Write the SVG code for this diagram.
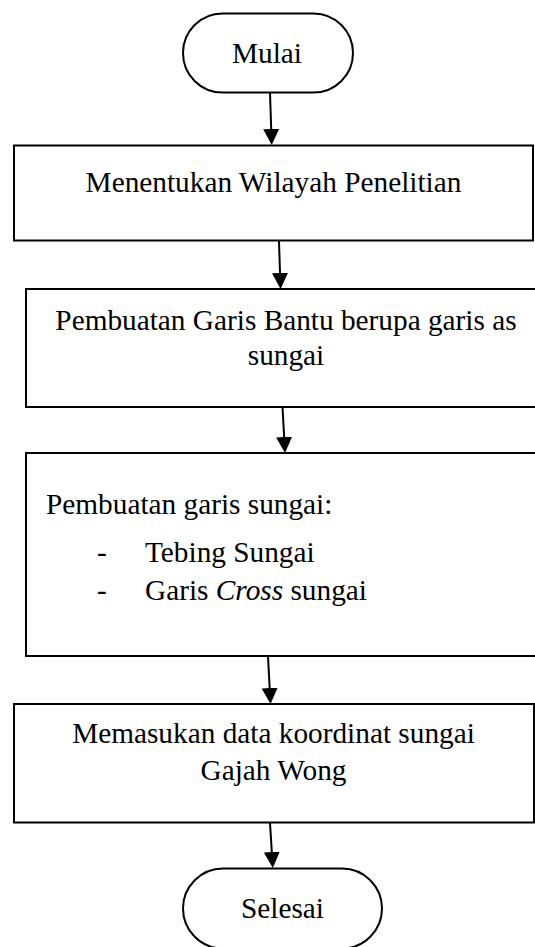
<svg xmlns="http://www.w3.org/2000/svg" width="535" height="947" viewBox="0 0 535 947">
<style>
  .shape { fill: #ffffff; stroke: #000000; stroke-width: 2; }
  .t { font-family: 'Liberation Serif', 'DejaVu Serif', serif; font-size: 29.3px; fill: #000000; }
  .c { text-anchor: middle; }
  .conn { stroke: #000000; stroke-width: 2; fill: none; marker-end: url(#arrow); }
</style>
<defs>
  <marker id="arrow" markerUnits="userSpaceOnUse" markerWidth="16" markerHeight="16" viewBox="0 0 16 16" refX="12" refY="8" orient="auto">
    <path d="M0,0 L16,8 L0,16 Z" fill="#000000"/>
  </marker>
</defs>
<rect width="535" height="947" fill="#ffffff"/>
<g id="connectors">
  <line class="conn" x1="270" y1="93" x2="271.6" y2="141"/>
  <line class="conn" x1="279" y1="241" x2="280.4" y2="285"/>
  <line class="conn" x1="282.5" y1="407" x2="284.8" y2="449"/>
  <line class="conn" x1="268" y1="656" x2="270.3" y2="700"/>
  <line class="conn" x1="270" y1="823" x2="272.6" y2="864"/>
</g>
<g id="start">
  <rect class="shape" x="183" y="13.5" width="170" height="79" rx="39.5" ry="39.5"/>
  <text class="t c" font-family="Liberation Serif, serif" x="267" y="63.3">Mulai</text>
</g>
<g id="step1">
  <rect class="shape" x="14" y="145.5" width="519" height="95"/>
  <text class="t c" font-family="Liberation Serif, serif" x="273.5" y="191.5">Menentukan Wilayah Penelitian</text>
</g>
<g id="step2">
  <rect class="shape" x="26" y="289" width="514" height="118"/>
  <text class="t c" font-family="Liberation Serif, serif" x="286" y="329.5">Pembuatan Garis Bantu berupa garis as</text>
  <text class="t c" font-family="Liberation Serif, serif" x="286" y="364.5">sungai</text>
</g>
<g id="step3">
  <rect class="shape" x="26" y="453" width="514" height="203"/>
  <text class="t" font-family="Liberation Serif, serif" x="46" y="514">Pembuatan garis sungai:</text>
  <text class="t" font-family="Liberation Serif, serif" x="97" y="561.5">-</text>
  <text class="t" font-family="Liberation Serif, serif" x="145" y="561.5">Tebing Sungai</text>
  <text class="t" font-family="Liberation Serif, serif" x="97" y="600">-</text>
  <text class="t" font-family="Liberation Serif, serif" x="145" y="600">Garis <tspan font-style="italic">Cross</tspan> sungai</text>
</g>
<g id="step4">
  <rect class="shape" x="14" y="704" width="520" height="118.5"/>
  <text class="t c" font-family="Liberation Serif, serif" x="273.5" y="742.5">Memasukan data koordinat sungai</text>
  <text class="t c" font-family="Liberation Serif, serif" x="273.5" y="780">Gajah Wong</text>
</g>
<g id="end">
  <rect class="shape" x="183" y="868.5" width="199" height="80" rx="40" ry="40"/>
  <text class="t c" font-family="Liberation Serif, serif" x="282.5" y="918.3">Selesai</text>
</g>
</svg>
